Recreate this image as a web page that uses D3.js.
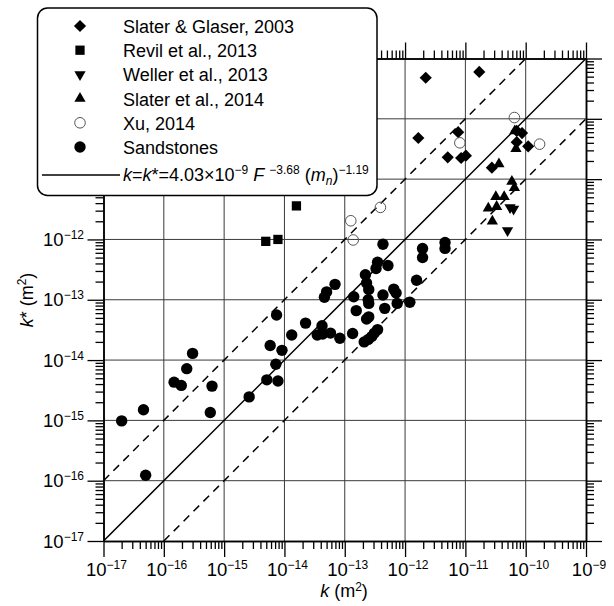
<!DOCTYPE html>
<html>
<head>
<meta charset="utf-8">
<script src="https://cdn.jsdelivr.net/npm/d3@7"></script>
<style>
  body { margin: 0; background: #fff; }
  svg text { font-family: "Liberation Sans", Arial, sans-serif; fill: #000; }
</style>
</head>
<body>
<div id="chart"></div>
<script>
// values, in m^2
const sandX = [2.0e-17, 4.6e-17, 5.0e-17, 1.48e-16, 1.95e-16, 2.4e-16, 3.0e-16, 6.3e-16, 5.9e-16,
  2.6e-15, 5.1e-15, 7.8e-15, 7.2e-15, 5.8e-15, 9.1e-15, 7.4e-15, 1.32e-14, 2.24e-14, 4.2e-14,
  3.5e-14, 4.3e-14, 5.8e-14, 8.3e-14, 1.35e-13, 4.6e-14, 5.0e-14, 6.9e-14, 1.41e-13, 1.55e-13,
  2.2e-13, 2.3e-13, 2.5e-13, 2.45e-13, 2.5e-13, 2.5e-13, 2.3e-13, 3.3e-13, 3.5e-13, 4.3e-13,
  5.2e-13, 4.3e-13, 4.6e-13, 3.1e-13, 2.8e-13, 2.45e-13, 2.1e-13, 3.5e-13, 6.5e-13, 7.1e-13,
  7.4e-13, 1.2e-12, 1.55e-12, 1.95e-12, 1.95e-12, 4.6e-12, 4.6e-12];
const sandY = [9.8e-16, 1.5e-15, 1.23e-16, 4.3e-15, 3.8e-15, 7.2e-15, 1.29e-14, 3.7e-15, 1.35e-15,
  2.45e-15, 4.7e-15, 4.5e-15, 8.5e-15, 1.74e-14, 1.45e-14, 5.6e-14, 2.6e-14, 4.1e-14, 3.7e-14,
  2.6e-14, 2.7e-14, 2.8e-14, 2.3e-14, 2.75e-14, 1.1e-13, 1.35e-13, 1.8e-13, 1.12e-13, 6.6e-14,
  2.6e-13, 1.9e-13, 1.48e-13, 1.0e-13, 8.7e-14, 5.2e-14, 4.8e-14, 3.3e-13, 4.2e-13, 8.3e-13,
  3.7e-13, 1.2e-13, 7.2e-14, 2.8e-14, 2.45e-14, 2.2e-14, 2.0e-14, 3.2e-14, 1.5e-13, 1.29e-13,
  8.7e-14, 9.1e-14, 2.1e-13, 7.1e-13, 5.0e-13, 8.9e-13, 7.1e-13];

const slaterGlaserX = [2.2e-12, 1.7e-11, 1.66e-12, 7.6e-12, 5.1e-12, 8.5e-12, 1.02e-11, 2.75e-11, 7.1e-11, 8.7e-11, 7.1e-11, 1.1e-10];
const slaterGlaserY = [4.8e-10, 6.0e-10, 4.8e-11, 6.0e-11, 2.3e-11, 2.24e-11, 2.45e-11, 1.55e-11, 6.3e-11, 5.8e-11, 4.1e-11, 3.5e-11];

const revilX = [4.9e-15, 7.8e-15, 1.58e-14];
const revilY = [9.3e-13, 1.0e-12, 3.6e-12];

const wellerX = [5.5e-11, 6.3e-11, 5.0e-11];
const wellerY = [3.4e-12, 3.2e-12, 1.41e-12];

const slater14X = [3.6e-11, 6.6e-11, 6.9e-11, 5.9e-11, 6.5e-11, 3.2e-11, 4.4e-11, 3.3e-11, 2.4e-11, 2.8e-11];
const slater14Y = [1.78e-11, 6.3e-11, 3.2e-11, 9.1e-12, 7.2e-12, 5.1e-12, 5.1e-12, 3.5e-12, 3.3e-12, 2.0e-12];

const xuX = [1.26e-13, 1.38e-13, 3.9e-13, 6.5e-11, 8.1e-12, 1.7e-10];
const xuY = [2.04e-12, 9.8e-13, 3.4e-12, 1.05e-10, 4.0e-11, 3.8e-11];

const majorTicks = [1e-17, 1e-16, 1e-15, 1e-14, 1e-13, 1e-12, 1e-11, 1e-10, 1e-9];
const tickExps = ["\u221217", "\u221216", "\u221215", "\u221214", "\u221213", "\u221212", "\u221211", "\u221210", "\u22129"];

const legendNames = ["Slater & Glaser, 2003", "Revil et al., 2013", "Weller et al., 2013", "Slater et al., 2014", "Xu, 2014", "Sandstones"];

const minorTicks = [];
majorTicks.slice(0, -1).forEach(d => {
  for (let m = 2; m <= 9; m++) minorTicks.push(m * d);
});

const svg = d3.select("#chart").append("svg").attr("width", 614).attr("height", 606);

const pLeft = 103.5, pTop = 58.5, pRight = 586, pBottom = 541;
const x = d3.scaleLog().domain([1e-17, 1e-9]).range([pLeft, pRight]);
const y = d3.scaleLog().domain([1e-17, 1e-9]).range([pBottom, pTop]);

// grid
const grid = svg.append("g").attr("stroke", "#3a3a3a").attr("stroke-width", 1);
grid.selectAll(".gx").data(majorTicks.slice(1, -1)).enter().append("line")
  .attr("x1", d => x(d)).attr("x2", d => x(d)).attr("y1", pTop).attr("y2", pBottom);
grid.selectAll(".gy").data(majorTicks.slice(1, -1)).enter().append("line")
  .attr("y1", d => y(d)).attr("y2", d => y(d)).attr("x1", pLeft).attr("x2", pRight);

// reference lines k*=k, k*=10k, k*=k/10
const lines = svg.append("g").attr("fill", "none").attr("stroke", "#000").attr("stroke-width", 1.5);
lines.append("line").attr("x1", x(1e-17)).attr("y1", y(1e-17)).attr("x2", x(1e-9)).attr("y2", y(1e-9));
lines.append("line").attr("x1", x(1e-17)).attr("y1", y(1e-16)).attr("x2", x(1e-10)).attr("y2", y(1e-9))
  .attr("stroke-dasharray", "8,6");
lines.append("line").attr("x1", x(1e-16)).attr("y1", y(1e-17)).attr("x2", x(1e-9)).attr("y2", y(1e-10))
  .attr("stroke-dasharray", "8,6");

// axes
function styleAxis(g) {
  g.select(".domain").attr("stroke-width", 1.5);
  g.selectAll(".tick line").attr("stroke-width", 1.3);
}
[[d3.axisBottom, `translate(0,${pBottom})`], [d3.axisTop, `translate(0,${pTop})`]].forEach(([fn, tr]) => {
  svg.append("g").attr("transform", tr).call(fn(x).tickValues(majorTicks).tickSize(16).tickSizeOuter(0).tickFormat("")).call(styleAxis);
  svg.append("g").attr("transform", tr).call(fn(x).tickValues(minorTicks).tickSize(8).tickSizeOuter(0).tickFormat("")).call(styleAxis);
});
[[d3.axisLeft, `translate(${pLeft},0)`], [d3.axisRight, `translate(${pRight},0)`]].forEach(([fn, tr]) => {
  svg.append("g").attr("transform", tr).call(fn(y).tickValues(majorTicks).tickSize(16).tickSizeOuter(0).tickFormat("")).call(styleAxis);
  svg.append("g").attr("transform", tr).call(fn(y).tickValues(minorTicks).tickSize(8).tickSizeOuter(0).tickFormat("")).call(styleAxis);
});

// tick labels 10^n
function powLabel(sel, i) {
  sel.append("tspan").text("10");
  sel.append("tspan").attr("dy", -7).attr("font-size", 12).text(tickExps[i]);
}
svg.selectAll(".xl").data(majorTicks).enter().append("text")
  .attr("x", d => x(d) + 3).attr("y", 576).attr("text-anchor", "middle").attr("font-size", 18.5)
  .each(function(d, i) { powLabel(d3.select(this), i); });
svg.selectAll(".yl").data(majorTicks).enter().append("text")
  .attr("x", 84).attr("y", d => y(d) + 6.5).attr("text-anchor", "end").attr("font-size", 18.5)
  .each(function(d, i) { powLabel(d3.select(this), i); });

// axis titles
const xt = svg.append("text").attr("x", 344).attr("y", 597).attr("text-anchor", "middle").attr("font-size", 18);
xt.append("tspan").attr("font-style", "italic").text("k");
xt.append("tspan").text(" (m");
xt.append("tspan").attr("dy", -6).attr("font-size", 12).text("2");
xt.append("tspan").attr("dy", 6).text(")");

const yt = svg.append("text").attr("transform", "translate(33,300) rotate(-90)").attr("text-anchor", "middle").attr("font-size", 18);
yt.append("tspan").attr("font-style", "italic").text("k");
yt.append("tspan").text("*  (m");
yt.append("tspan").attr("dy", -7).attr("font-size", 12).text("2");
yt.append("tspan").attr("dy", 7).text(")");

// markers
const diamond = d3.symbol().type(d3.symbolSquare).size(74);
const square = d3.symbol().type(d3.symbolSquare).size(86);
const tri = d3.symbol().type(d3.symbolTriangle).size(55);

function zip(a, b) { return a.map((v, i) => [v, b[i]]); }

const marks = svg.append("g");
marks.selectAll(".sand").data(zip(sandX, sandY)).enter().append("circle")
  .attr("cx", d => x(d[0])).attr("cy", d => y(d[1])).attr("r", 5.7).attr("fill", "#000");
marks.selectAll(".sg").data(zip(slaterGlaserX, slaterGlaserY)).enter().append("path")
  .attr("d", diamond).attr("transform", d => `translate(${x(d[0])},${y(d[1])}) rotate(45)`);
marks.selectAll(".rv").data(zip(revilX, revilY)).enter().append("path")
  .attr("d", square).attr("transform", d => `translate(${x(d[0])},${y(d[1])})`);
marks.selectAll(".wl").data(zip(wellerX, wellerY)).enter().append("path")
  .attr("d", tri).attr("transform", d => `translate(${x(d[0])},${y(d[1])}) rotate(180)`);
marks.selectAll(".s14").data(zip(slater14X, slater14Y)).enter().append("path")
  .attr("d", tri).attr("transform", d => `translate(${x(d[0])},${y(d[1])})`);
marks.selectAll(".xu").data(zip(xuX, xuY)).enter().append("circle")
  .attr("cx", d => x(d[0])).attr("cy", d => y(d[1])).attr("r", 5.3)
  .attr("fill", "none").attr("stroke", "#555").attr("stroke-width", 1);

// legend
const lg = svg.append("g");
lg.append("rect").attr("x", 37.5).attr("y", 8).attr("width", 339.5).attr("height", 187.5).attr("rx", 10)
  .attr("fill", "#fff").attr("stroke", "#000").attr("stroke-width", 1.5);
const rowY = d3.range(legendNames.length).map(i => 26 + i * 24.2);
const mx = 80;
lg.append("path").attr("d", diamond).attr("transform", `translate(${mx},${rowY[0]}) rotate(45)`);
lg.append("path").attr("d", square).attr("transform", `translate(${mx},${rowY[1]})`);
lg.append("path").attr("d", tri).attr("transform", `translate(${mx},${rowY[2]}) rotate(180)`);
lg.append("path").attr("d", tri).attr("transform", `translate(${mx},${rowY[3]})`);
lg.append("circle").attr("cx", mx).attr("cy", rowY[4]).attr("r", 5.3).attr("fill", "none").attr("stroke", "#555");
lg.append("circle").attr("cx", mx).attr("cy", rowY[5]).attr("r", 5.7);
lg.selectAll(".lt").data(legendNames).enter().append("text")
  .attr("x", 123).attr("y", (d, i) => rowY[i] + 7).attr("font-size", 18).text(d => d);

lg.append("line").attr("x1", 42).attr("x2", 120).attr("y1", 175).attr("y2", 175).attr("stroke", "#000").attr("stroke-width", 1.3);
const ft = lg.append("text").attr("x", 123).attr("y", 181).attr("font-size", 18);
const parts = [
  { t: "k", it: true }, { t: "=" }, { t: "k", it: true }, { t: "*=4.03\u00d710" },
  { t: "\u22129", dy: -7, fs: 12 }, { t: " ", dy: 7 }, { t: "F", it: true }, { t: " " },
  { t: "\u22123.68", dy: -7, fs: 12 }, { t: " (", dy: 7 }, { t: "m", it: true },
  { t: "n", it: true, dy: 4, fs: 12 }, { t: ")", dy: -4 }, { t: "\u22121.19", dy: -7, fs: 12 }
];
parts.forEach(p => {
  const ts = ft.append("tspan").text(p.t);
  if (p.it) ts.attr("font-style", "italic");
  if (p.dy) ts.attr("dy", p.dy);
  if (p.fs) ts.attr("font-size", p.fs);
});
</script>
</body>
</html>
